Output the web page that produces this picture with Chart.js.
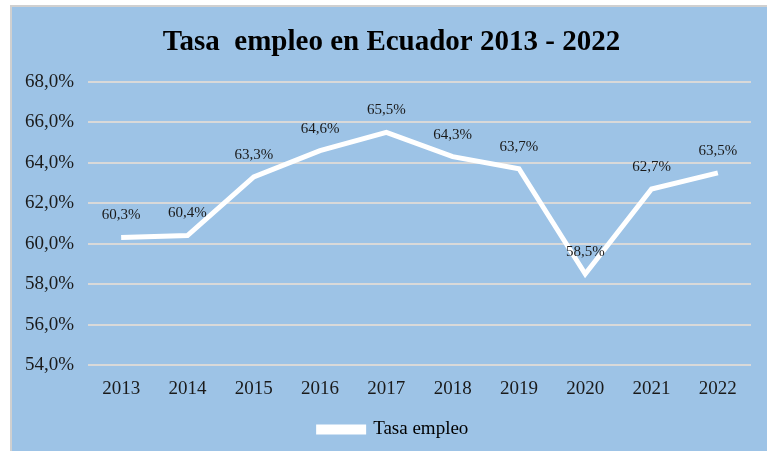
<!DOCTYPE html>
<html>
<head>
<meta charset="utf-8">
<script src="https://cdn.jsdelivr.net/npm/chart.js@4/dist/chart.umd.min.js"></script>
<style>
  html, body { margin: 0; padding: 0; background: #ffffff; }
  #wrap { width: 767px; height: 451px; position: relative; }
</style>
</head>
<body>
<div id="wrap"><canvas id="c" width="767" height="451"></canvas></div>
<script>
const categories = ['2013', '2014', '2015', '2016', '2017', '2018', '2019', '2020', '2021', '2022'];
const tasaEmpleo = [60.3, 60.4, 63.3, 64.6, 65.5, 64.3, 63.7, 58.5, 62.7, 63.5];
const seriesName = 'Tasa empleo';
const chartTitle = 'Tasa  empleo en Ecuador 2013 - 2022';
const yMin = 54, yMax = 68, yStep = 2;

const fmt = v => v.toFixed(1).replace('.', ',') + '%';
const SERIF = '"Liberation Serif", "Times New Roman", serif';

const backgroundPlugin = {
  id: 'bgbox',
  beforeDraw(chart) {
    const ctx = chart.ctx;
    ctx.save();
    ctx.fillStyle = '#ffffff';
    ctx.fillRect(0, 0, chart.width, chart.height);
    ctx.fillStyle = '#d0d0d0';
    ctx.fillRect(10, 5, chart.width - 10, chart.height - 5);
    ctx.fillStyle = '#9dc3e6';
    ctx.fillRect(12, 7, chart.width - 12, chart.height - 7);
    ctx.restore();
  }
};

// nudge title and legend horizontally to match the reference centring
const nudgePlugin = {
  id: 'nudge',
  afterLayout(chart) {
    if (chart.titleBlock) { chart.titleBlock.left += 10; chart.titleBlock.right += 10; }
    if (chart.legend) { chart.legend.left += 12; chart.legend.right += 12; }
  }
};

const labelPlugin = {
  id: 'pointLabels',
  afterDatasetsDraw(chart) {
    const ctx = chart.ctx;
    const meta = chart.getDatasetMeta(0);
    ctx.save();
    ctx.font = '15px ' + SERIF;
    ctx.fillStyle = '#1a1a1a';
    ctx.textAlign = 'center';
    ctx.textBaseline = 'middle';
    meta.data.forEach((pt, i) => {
      ctx.fillText(fmt(chart.data.datasets[0].data[i]), pt.x, pt.y - 22);
    });
    ctx.restore();
  }
};

new Chart(document.getElementById('c'), {
  type: 'line',
  data: {
    labels: categories,
    datasets: [{
      label: seriesName,
      data: tasaEmpleo,
      borderColor: '#ffffff',
      backgroundColor: '#ffffff',
      borderWidth: 5,
      pointRadius: 0,
      pointHoverRadius: 0,
      tension: 0,
      fill: false
    }]
  },
  options: {
    responsive: false,
    animation: false,
    devicePixelRatio: 1,
    layout: { padding: { top: 7, left: 12, right: 16, bottom: 2 } },
    plugins: {
      title: {
        display: true,
        text: chartTitle,
        color: '#000000',
        font: { family: SERIF, size: 29, weight: 'bold', lineHeight: 1.2 },
        padding: { top: 18, bottom: 22 }
      },
      legend: {
        display: true,
        position: 'bottom',
        labels: {
          color: '#000000',
          font: { family: SERIF, size: 19 },
          boxWidth: 45,
          boxHeight: 5,
          padding: 8
        }
      },
      tooltip: { enabled: false }
    },
    scales: {
      x: {
        offset: true,
        grid: { display: false, drawTicks: false },
        border: { display: false },
        ticks: { color: '#1a1a1a', font: { family: SERIF, size: 19 }, padding: 13, maxRotation: 0 },
        afterFit(scale) { scale.height = 47; }
      },
      y: {
        min: yMin,
        max: yMax,
        grid: { color: '#d9d9d9', lineWidth: 2, drawTicks: false },
        border: { display: false },
        ticks: {
          stepSize: yStep,
          color: '#1a1a1a',
          font: { family: SERIF, size: 19 },
          padding: 14,
          callback: v => fmt(v)
        },
        afterFit(scale) { scale.width = 76; }
      }
    }
  },
  plugins: [backgroundPlugin, nudgePlugin, labelPlugin]
});
</script>
</body>
</html>
